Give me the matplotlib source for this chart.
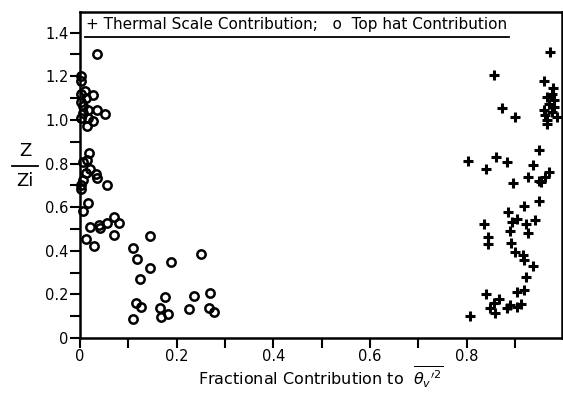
import matplotlib

matplotlib.use('Agg')
import matplotlib.pyplot as plt
from matplotlib.lines import Line2D
from matplotlib.ticker import MultipleLocator

# top hat contribution (circles)
TOPHAT_X = [0.035, 0.002, 0.002, 0.010, 0.003, 0.028, 0.012, 0.003, 0.007, 0.017,
            0.036, 0.052, 0.006, 0.017, 0.003, 0.026, 0.014, 0.019, 0.007, 0.015,
            0.021, 0.012, 0.033, 0.036, 0.006, 0.057, 0.003, 0.003, 0.016, 0.006,
            0.021, 0.040, 0.041, 0.055, 0.070, 0.081, 0.071, 0.012, 0.029, 0.144,
            0.109, 0.118, 0.188, 0.250, 0.145, 0.124, 0.269, 0.236, 0.175, 0.116,
            0.126, 0.166, 0.226, 0.266, 0.277, 0.182, 0.168, 0.109]
TOPHAT_Y = [1.30, 1.20, 1.18, 1.134, 1.118, 1.115, 1.10, 1.084, 1.064, 1.043,
            1.043, 1.028, 1.031, 1.008, 1.008, 0.997, 0.972, 0.847, 0.806, 0.817,
            0.774, 0.758, 0.752, 0.733, 0.725, 0.702, 0.702, 0.682, 0.621, 0.583,
            0.511, 0.518, 0.503, 0.526, 0.553, 0.526, 0.472, 0.453, 0.422, 0.469,
            0.411, 0.362, 0.350, 0.387, 0.323, 0.269, 0.208, 0.193, 0.190, 0.162,
            0.144, 0.139, 0.133, 0.136, 0.118, 0.112, 0.098, 0.089]

# thermal scale contribution (crosses)
THERMAL_X = [0.973, 0.856, 0.961, 0.979, 0.966, 0.976, 0.980, 0.970, 0.980, 0.961,
             0.976, 0.986, 0.963, 0.966, 0.966, 0.873, 0.899, 0.950, 0.803, 0.861,
             0.883, 0.841, 0.937, 0.927, 0.895, 0.970, 0.963, 0.954, 0.950, 0.919,
             0.950, 0.885, 0.904, 0.894, 0.941, 0.923, 0.836, 0.890, 0.926, 0.845,
             0.845, 0.892, 0.901, 0.917, 0.919, 0.937, 0.923, 0.904, 0.919, 0.840,
             0.867, 0.856, 0.849, 0.859, 0.883, 0.889, 0.904, 0.912, 0.806]
THERMAL_Y = [1.313, 1.206, 1.180, 1.145, 1.107, 1.120, 1.092, 1.075, 1.061, 1.046,
             1.038, 1.012, 1.023, 1.000, 0.982, 1.054, 1.012, 0.862, 0.812, 0.832,
             0.806, 0.775, 0.794, 0.740, 0.712, 0.763, 0.740, 0.714, 0.720, 0.606,
             0.630, 0.577, 0.544, 0.534, 0.541, 0.521, 0.521, 0.492, 0.483, 0.462,
             0.430, 0.437, 0.393, 0.381, 0.358, 0.332, 0.281, 0.210, 0.220, 0.200,
             0.178, 0.159, 0.136, 0.113, 0.136, 0.151, 0.144, 0.156, 0.102]

X_TICKS = [0, 0.2, 0.4, 0.6, 0.8]
X_LABELS = ['0', '0.2', '0.4', '0.6', '0.8']
Y_TICKS = [0, 0.2, 0.4, 0.6, 0.8, 1.0, 1.2, 1.4]
Y_LABELS = ['0', '0.2', '0.4', '0.6', '0.8', '1.0', '1.2', '1.4']

fig = plt.figure(figsize=(5.63, 3.95), dpi=100)
ax = fig.add_axes([0.142, 0.144, 0.856, 0.826])

ax.plot(TOPHAT_X, TOPHAT_Y, 'o', ms=6, mfc='none', mec='black', mew=1.8, clip_on=False)
ax.plot(THERMAL_X, THERMAL_Y, '+', ms=7, mec='black', mew=2.2, clip_on=False)

ax.set_xlim(0, 0.997)
ax.set_ylim(0, 1.495)
ax.set_xticks(X_TICKS)
ax.set_xticklabels(X_LABELS)
ax.set_yticks(Y_TICKS)
ax.set_yticklabels(Y_LABELS)
ax.xaxis.set_minor_locator(MultipleLocator(0.1))
ax.yaxis.set_minor_locator(MultipleLocator(0.1))
ax.tick_params(which='both', direction='out', width=1.5, length=7, labelsize=10.5, pad=1)
ax.tick_params(axis='x', top=False)
ax.tick_params(axis='y', right=False)
for s in ax.spines.values():
    s.set_linewidth(1.8)

# legend as text with underline
ax.text(0.012, 1.435, '+ Thermal Scale Contribution;   o  Top hat Contribution',
        fontsize=11, va='center', ha='left')
ax.add_line(Line2D([0.01, 0.887], [1.38, 1.38], color='black', lw=1.3))

# y label as a fraction Z / Zi
fig.text(0.045, 0.595, 'Z', fontsize=13, ha='center', va='bottom')
fig.text(0.045, 0.565, 'Zi', fontsize=13, ha='center', va='top')
fig.add_artist(Line2D([0.022, 0.068], [0.58, 0.58], color='black', lw=1.3,
                      transform=fig.transFigure))

ax.set_xlabel(r"Fractional Contribution to  $\overline{\theta_v{}'^2}$", fontsize=11.5, labelpad=0)

fig.savefig('out.png', dpi=100)
